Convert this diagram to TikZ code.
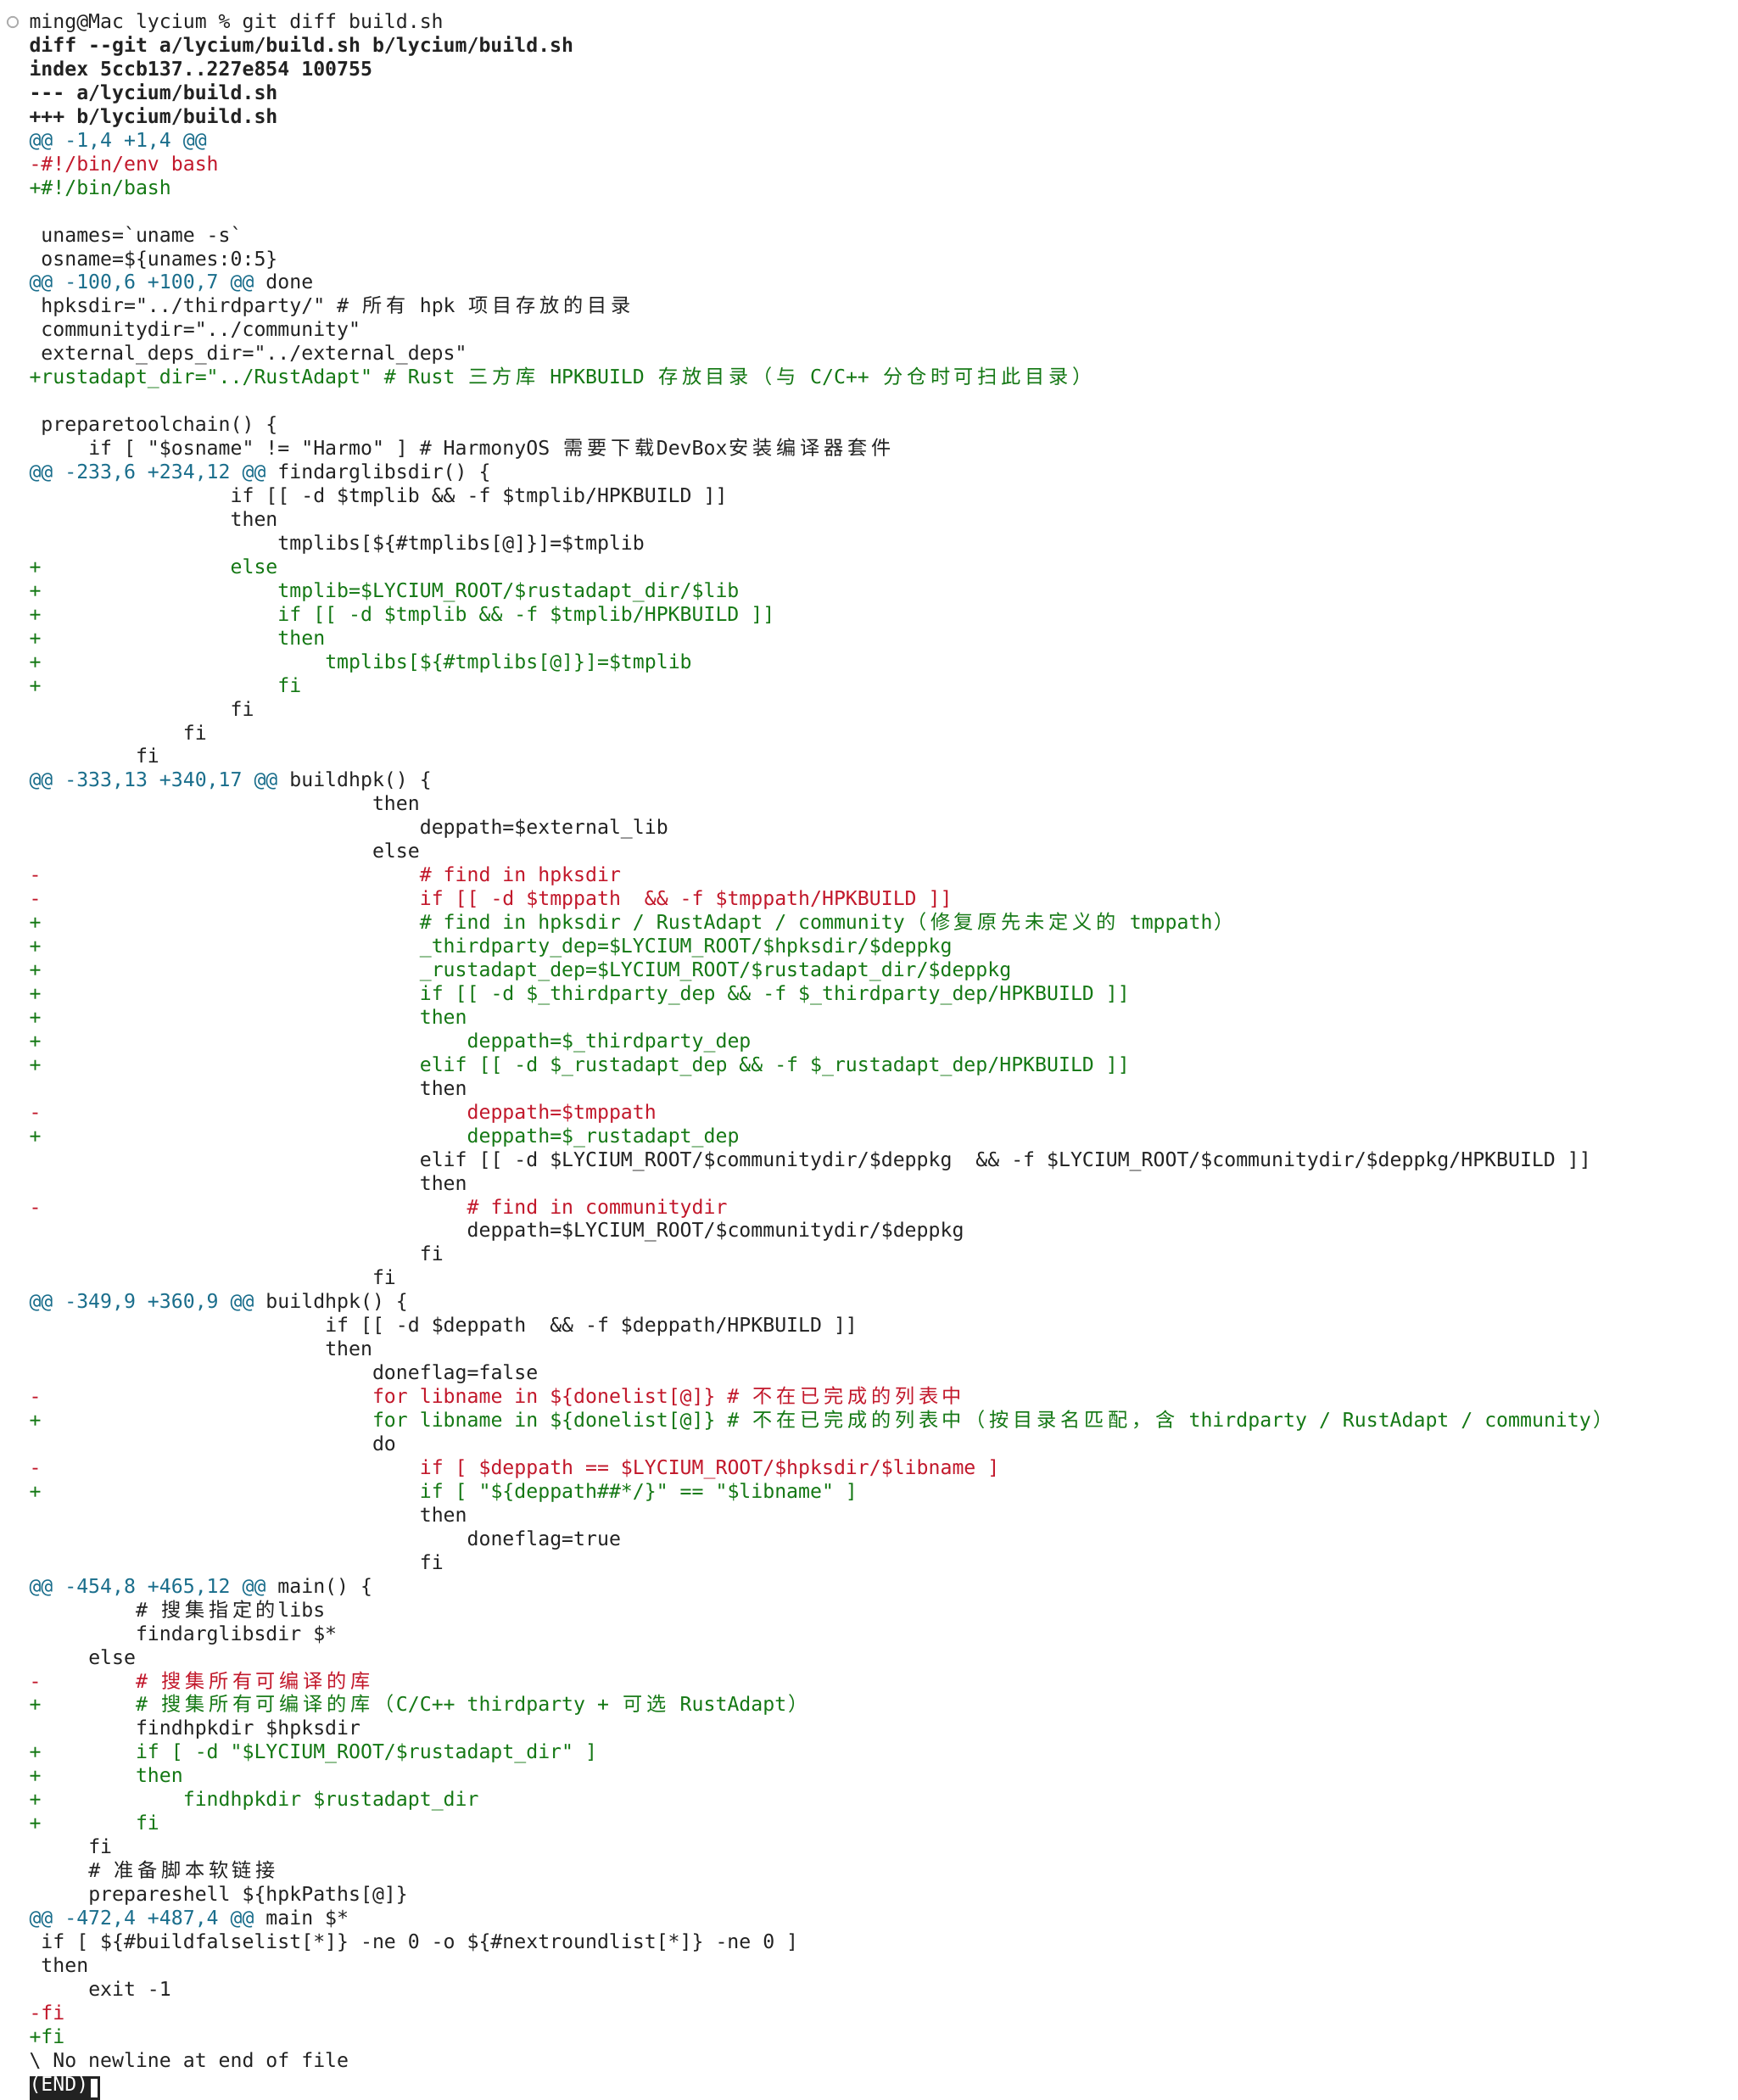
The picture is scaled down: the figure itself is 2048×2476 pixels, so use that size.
\documentclass[tikz,border=0pt]{standalone}
\usepackage{fontspec}
\setmonofont{DejaVu Sans Mono}
\newfontfamily\cjkf{Noto Sans CJK SC}
\definecolor{fg}{HTML}{222222}
\definecolor{hunk}{HTML}{1A6E8C}
\definecolor{del}{HTML}{C2182B}
\definecolor{add}{HTML}{147814}
\newlength\colw
\setlength\colw{13.95pt}
\newcommand\indc[1]{\hskip#1\colw\relax}
\let\cjend\relax
\newcommand\cj[1]{\cjloop#1\cjend}
\def\cjloop#1{\ifx#1\cjend\else\makebox[2\colw][c]{\cjkf#1}\expandafter\cjloop\fi}
\newcommand\mfont{\ttfamily\fontsize{23.17pt}{27.95pt}\selectfont\frenchspacing}
\tikzset{txt/.style={inner sep=0pt,outer sep=0pt,anchor=base west,font=\mfont}}
\newcommand\LN[3]{\node[txt,text=#2] (l#1) at (34.5,{33.5+(#1-1)*27.95}) {#3};}
\begin{document}
\begin{tikzpicture}[x=1pt,y=-1pt]
\fill[white] (0,0) rectangle (2048,2476);
\useasboundingbox (0,0) rectangle (2048,2476);
\draw[black!32,line width=1.8pt] (15,26) circle[radius=6.2pt];
\LN{1}{fg}{ming@Mac lycium \% git diff build.sh}
\LN{2}{fg}{\bfseries diff -{}-git a/lycium/build.sh b/lycium/build.sh}
\LN{3}{fg}{\bfseries index 5ccb137..227e854 100755}
\LN{4}{fg}{\bfseries -{}-{}- a/lycium/build.sh}
\LN{5}{fg}{\bfseries +++ b/lycium/build.sh}
\LN{6}{hunk}{@@ -1,4 +1,4 @@}
\LN{7}{del}{-\#!/bin/env bash}
\LN{8}{add}{+\#!/bin/bash}
\LN{10}{fg}{\indc{1}unames=\textasciigrave uname -s\textasciigrave}
\LN{11}{fg}{\indc{1}osname=\$\{unames:0:5\}}
\LN{12}{hunk}{@@ -100,6 +100,7 @@ \textcolor{fg}{done}}
\LN{13}{fg}{\indc{1}hpksdir="../thirdparty/" \# \cj{所有} hpk \cj{项目存放的目录}}
\LN{14}{fg}{\indc{1}communitydir="../community"}
\LN{15}{fg}{\indc{1}external\_deps\_dir="../external\_deps"}
\LN{16}{add}{+rustadapt\_dir="../RustAdapt" \# Rust \cj{三方库} HPKBUILD \cj{存放目录（与} C/C++ \cj{分仓时可扫此目录）}}
\LN{18}{fg}{\indc{1}preparetoolchain() \{}
\LN{19}{fg}{\indc{5}if [ "\$osname" != "Harmo" ] \# HarmonyOS \cj{需要下载}DevBox\cj{安装编译器套件}}
\LN{20}{hunk}{@@ -233,6 +234,12 @@ \textcolor{fg}{findarglibsdir() \{}}
\LN{21}{fg}{\indc{17}if [[ -d \$tmplib \&\& -f \$tmplib/HPKBUILD ]]}
\LN{22}{fg}{\indc{17}then}
\LN{23}{fg}{\indc{21}tmplibs[\$\{\#tmplibs[@]\}]=\$tmplib}
\LN{24}{add}{+\indc{16}else}
\LN{25}{add}{+\indc{20}tmplib=\$LYCIUM\_ROOT/\$rustadapt\_dir/\$lib}
\LN{26}{add}{+\indc{20}if [[ -d \$tmplib \&\& -f \$tmplib/HPKBUILD ]]}
\LN{27}{add}{+\indc{20}then}
\LN{28}{add}{+\indc{24}tmplibs[\$\{\#tmplibs[@]\}]=\$tmplib}
\LN{29}{add}{+\indc{20}fi}
\LN{30}{fg}{\indc{17}fi}
\LN{31}{fg}{\indc{13}fi}
\LN{32}{fg}{\indc{9}fi}
\LN{33}{hunk}{@@ -333,13 +340,17 @@ \textcolor{fg}{buildhpk() \{}}
\LN{34}{fg}{\indc{29}then}
\LN{35}{fg}{\indc{33}deppath=\$external\_lib}
\LN{36}{fg}{\indc{29}else}
\LN{37}{del}{-\indc{32}\# find in hpksdir}
\LN{38}{del}{-\indc{32}if [[ -d \$tmppath\indc{2}\&\& -f \$tmppath/HPKBUILD ]]}
\LN{39}{add}{+\indc{32}\# find in hpksdir / RustAdapt / community\cj{（修复原先未定义的} tmppath\cj{）}}
\LN{40}{add}{+\indc{32}\_thirdparty\_dep=\$LYCIUM\_ROOT/\$hpksdir/\$deppkg}
\LN{41}{add}{+\indc{32}\_rustadapt\_dep=\$LYCIUM\_ROOT/\$rustadapt\_dir/\$deppkg}
\LN{42}{add}{+\indc{32}if [[ -d \$\_thirdparty\_dep \&\& -f \$\_thirdparty\_dep/HPKBUILD ]]}
\LN{43}{add}{+\indc{32}then}
\LN{44}{add}{+\indc{36}deppath=\$\_thirdparty\_dep}
\LN{45}{add}{+\indc{32}elif [[ -d \$\_rustadapt\_dep \&\& -f \$\_rustadapt\_dep/HPKBUILD ]]}
\LN{46}{fg}{\indc{33}then}
\LN{47}{del}{-\indc{36}deppath=\$tmppath}
\LN{48}{add}{+\indc{36}deppath=\$\_rustadapt\_dep}
\LN{49}{fg}{\indc{33}elif [[ -d \$LYCIUM\_ROOT/\$communitydir/\$deppkg\indc{2}\&\& -f \$LYCIUM\_ROOT/\$communitydir/\$deppkg/HPKBUILD ]]}
\LN{50}{fg}{\indc{33}then}
\LN{51}{del}{-\indc{36}\# find in communitydir}
\LN{52}{fg}{\indc{37}deppath=\$LYCIUM\_ROOT/\$communitydir/\$deppkg}
\LN{53}{fg}{\indc{33}fi}
\LN{54}{fg}{\indc{29}fi}
\LN{55}{hunk}{@@ -349,9 +360,9 @@ \textcolor{fg}{buildhpk() \{}}
\LN{56}{fg}{\indc{25}if [[ -d \$deppath\indc{2}\&\& -f \$deppath/HPKBUILD ]]}
\LN{57}{fg}{\indc{25}then}
\LN{58}{fg}{\indc{29}doneflag=false}
\LN{59}{del}{-\indc{28}for libname in \$\{donelist[@]\} \# \cj{不在已完成的列表中}}
\LN{60}{add}{+\indc{28}for libname in \$\{donelist[@]\} \# \cj{不在已完成的列表中（按目录名匹配，含} thirdparty / RustAdapt / community\cj{）}}
\LN{61}{fg}{\indc{29}do}
\LN{62}{del}{-\indc{32}if [ \$deppath == \$LYCIUM\_ROOT/\$hpksdir/\$libname ]}
\LN{63}{add}{+\indc{32}if [ "\$\{deppath\#\#*/\}" == "\$libname" ]}
\LN{64}{fg}{\indc{33}then}
\LN{65}{fg}{\indc{37}doneflag=true}
\LN{66}{fg}{\indc{33}fi}
\LN{67}{hunk}{@@ -454,8 +465,12 @@ \textcolor{fg}{main() \{}}
\LN{68}{fg}{\indc{9}\# \cj{搜集指定的}libs}
\LN{69}{fg}{\indc{9}findarglibsdir \$*}
\LN{70}{fg}{\indc{5}else}
\LN{71}{del}{-\indc{8}\# \cj{搜集所有可编译的库}}
\LN{72}{add}{+\indc{8}\# \cj{搜集所有可编译的库（}C/C++ thirdparty + \cj{可选} RustAdapt\cj{）}}
\LN{73}{fg}{\indc{9}findhpkdir \$hpksdir}
\LN{74}{add}{+\indc{8}if [ -d "\$LYCIUM\_ROOT/\$rustadapt\_dir" ]}
\LN{75}{add}{+\indc{8}then}
\LN{76}{add}{+\indc{12}findhpkdir \$rustadapt\_dir}
\LN{77}{add}{+\indc{8}fi}
\LN{78}{fg}{\indc{5}fi}
\LN{79}{fg}{\indc{5}\# \cj{准备脚本软链接}}
\LN{80}{fg}{\indc{5}prepareshell \$\{hpkPaths[@]\}}
\LN{81}{hunk}{@@ -472,4 +487,4 @@ \textcolor{fg}{main \$*}}
\LN{82}{fg}{\indc{1}if [ \$\{\#buildfalselist[*]\} -ne 0 -o \$\{\#nextroundlist[*]\} -ne 0 ]}
\LN{83}{fg}{\indc{1}then}
\LN{84}{fg}{\indc{5}exit -1}
\LN{85}{del}{-fi}
\LN{86}{add}{+fi}
\LN{87}{fg}{\textbackslash{} No newline at end of file}
\fill[fg] (34.5,2448) rectangle (118.2,2476);
\fill[white] (107,2450.5) rectangle (114.5,2473);
\LN{88}{white}{(END)}
\end{tikzpicture}
\end{document}
